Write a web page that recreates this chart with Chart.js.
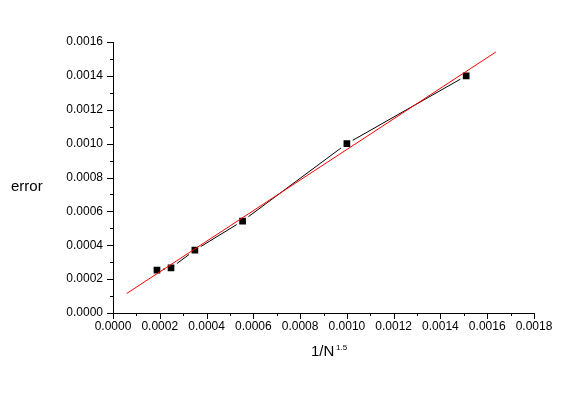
<!DOCTYPE html>
<html>
<head>
<meta charset="utf-8">
<script src="https://cdn.jsdelivr.net/npm/chart.js@4"></script>
<style>
    html, body { margin: 0; padding: 0; background: #fff; }
    #wrap { width: 584px; height: 393px; }
</style>
</head>
<body>
<div id="wrap"><canvas id="chart" width="584" height="393"></canvas></div>
<script>
    // measured points (black squares)
    var xValues = [0.000188, 0.000248, 0.00035, 0.000554, 0.001, 0.00151];
    var yValues = [0.000253, 0.000266, 0.000371, 0.000543, 0.001, 0.0014];

    // linear fit (red line), end points
    var fitX = [0.0000585, 0.001637];
    var fitY = [0.000115, 0.001541];

    var xTickLabels = ['0.0000', '0.0002', '0.0004', '0.0006', '0.0008', '0.0010', '0.0012', '0.0014', '0.0016', '0.0018'];
    var yTickLabels = ['0.0000', '0.0002', '0.0004', '0.0006', '0.0008', '0.0010', '0.0012', '0.0014', '0.0016'];

    function toPoints(xs, ys) {
        var pts = [];
        for (var i = 0; i < xs.length; i++) {
            pts.push({x: xs[i], y: ys[i]});
        }
        return pts;
    }

    // outward major/minor tick marks and the axis titles
    var decoPlugin = {
        id: 'deco',
        afterDraw: function(chart) {
            var ctx = chart.ctx;
            var xs = chart.scales.x;
            var ys = chart.scales.y;
            var area = chart.chartArea;
            ctx.save();
            ctx.strokeStyle = '#000';
            ctx.lineWidth = 1;
            ctx.beginPath();
            xs.ticks.forEach(function(t, i) {
                var px = Math.round(xs.getPixelForValue(t.value)) + 0.5;
                var len = i % 2 === 0 ? 6 : 3;
                ctx.moveTo(px, area.bottom);
                ctx.lineTo(px, area.bottom + len);
            });
            ys.ticks.forEach(function(t, i) {
                var py = Math.round(ys.getPixelForValue(t.value)) + 0.5;
                var len = i % 2 === 0 ? 6 : 3;
                ctx.moveTo(area.left, py);
                ctx.lineTo(area.left - len, py);
            });
            ctx.stroke();

            ctx.fillStyle = '#000';
            ctx.textBaseline = 'alphabetic';
            ctx.font = '15px "Liberation Sans", Arial, sans-serif';
            ctx.textAlign = 'left';
            ctx.fillText('error', 11, 191);
            ctx.fillText('1/N', 311, 356);
            ctx.font = '8px "Liberation Sans", Arial, sans-serif';
            ctx.fillText('1.5', 336, 350);
            ctx.restore();
        }
    };

    var tickFont = {family: '"Liberation Sans", Arial, sans-serif', size: 12};

    var ctx = document.getElementById('chart').getContext('2d');
    var chart = new Chart(ctx, {
        type: 'scatter',
        data: {
            datasets: [{
                label: 'fit',
                data: toPoints(fitX, fitY),
                showLine: true,
                borderColor: '#ff0000',
                borderWidth: 1,
                pointRadius: 0
            }, {
                label: 'error',
                data: toPoints(xValues, yValues),
                showLine: true,
                borderColor: '#000',
                borderWidth: 1,
                pointStyle: 'rect',
                pointRadius: 6.5,
                pointBackgroundColor: '#000',
                pointBorderColor: '#fff',
                pointBorderWidth: 2.5
            }]
        },
        options: {
            responsive: false,
            animation: false,
            layout: {padding: {left: 0, top: 42, right: 50, bottom: 0}},
            plugins: {
                legend: {display: false},
                tooltip: {enabled: false}
            },
            scales: {
                x: {
                    type: 'linear',
                    min: 0,
                    max: 0.0018,
                    grid: {display: false, drawTicks: false},
                    border: {display: true, color: '#000', width: 1},
                    afterFit: function(scale) { scale.height = 80; },
                    ticks: {
                        stepSize: 0.0001,
                        autoSkip: false,
                        maxRotation: 0,
                        padding: 6,
                        color: '#000',
                        font: tickFont,
                        callback: function(v, i) {
                            return i % 2 === 0 ? xTickLabels[i / 2] : '';
                        }
                    }
                },
                y: {
                    type: 'linear',
                    min: 0,
                    max: 0.0016,
                    grid: {display: false, drawTicks: false},
                    border: {display: true, color: '#000', width: 1},
                    afterFit: function(scale) { scale.width = 113; },
                    ticks: {
                        stepSize: 0.0001,
                        autoSkip: false,
                        padding: 10,
                        color: '#000',
                        font: tickFont,
                        callback: function(v, i) {
                            return i % 2 === 0 ? yTickLabels[i / 2] : '';
                        }
                    }
                }
            }
        },
        plugins: [decoPlugin]
    });
</script>
</body>
</html>
